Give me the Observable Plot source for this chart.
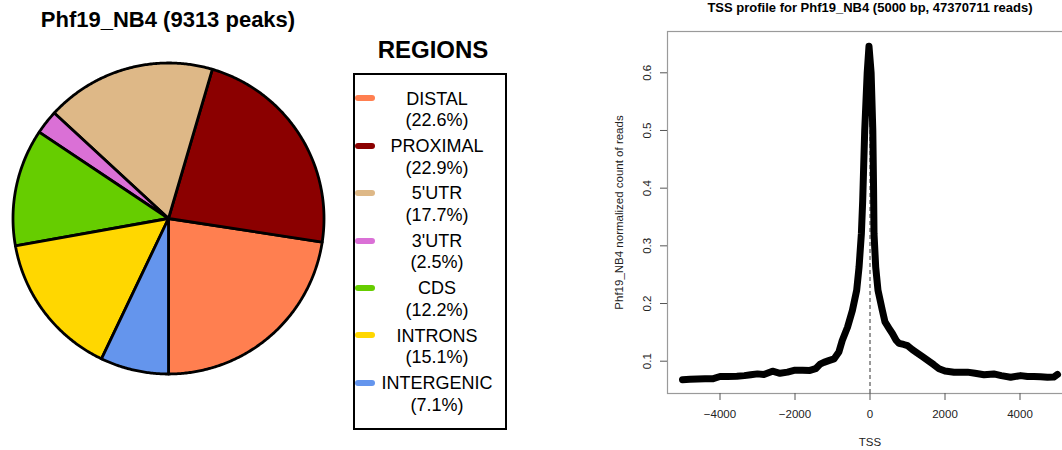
<!DOCTYPE html>
<html>
<head>
<meta charset="utf-8">
<script src="https://cdn.jsdelivr.net/npm/d3@7"></script>
<script src="https://cdn.jsdelivr.net/npm/@observablehq/plot@0.6"></script>
<style>
  body { margin: 0; background: #fff; font-family: "Liberation Sans", Arial, Helvetica, sans-serif; }
  #root { position: relative; width: 1062px; height: 450px; overflow: hidden; background: #fff; }
  .abs { position: absolute; white-space: nowrap; color: #000; }
  .abs svg { display: block; max-width: none !important; }
</style>
</head>
<body>
<div id="root"></div>
<script>
// Peak annotation shares per genomic region
const regions = ["DISTAL", "PROXIMAL", "5'UTR", "3'UTR", "CDS", "INTRONS", "INTERGENIC"];
const percents = [22.6, 22.9, 17.7, 2.5, 12.2, 15.1, 7.1];
const regionColors = ["#FF7F50", "#8B0000", "#DEB887", "#DA70D6", "#66CD00", "#FFD700", "#6495ED"];

// TSS profile: position relative to TSS (bp) and normalized read count
const tssPosition = [-5000, -4800, -4600, -4400, -4200, -4000, -3800, -3550, -3350, -3180, -3000, -2830, -2600, -2400, -2200, -2000, -1800, -1600, -1450, -1330, -1230, -1100, -960, -830, -740, -600, -470, -355, -292, -230, -195, -141, -75, -27, 30, 75, 95, 107, 152, 213, 330, 400, 507, 597, 700, 773, 900, 1000, 1130, 1264, 1400, 1531, 1700, 1840, 2000, 2240, 2600, 2800, 3040, 3300, 3500, 3750, 4020, 4200, 4370, 4550, 4730, 4900, 5000];
const tssSignal = [0.068, 0.0685, 0.069, 0.0695, 0.0695, 0.0735, 0.0735, 0.074, 0.075, 0.0765, 0.078, 0.077, 0.0827, 0.079, 0.081, 0.0845, 0.0845, 0.084, 0.087, 0.095, 0.098, 0.101, 0.104, 0.116, 0.136, 0.159, 0.188, 0.223, 0.263, 0.321, 0.378, 0.50, 0.60, 0.646, 0.60, 0.50, 0.40, 0.321, 0.263, 0.223, 0.188, 0.168, 0.157, 0.148, 0.136, 0.131, 0.129, 0.127, 0.120, 0.114, 0.108, 0.102, 0.094, 0.087, 0.083, 0.081, 0.081, 0.079, 0.0765, 0.078, 0.075, 0.0723, 0.075, 0.0735, 0.0735, 0.073, 0.0723, 0.0725, 0.077];
const xTicks = [-4000, -2000, 0, 2000, 4000];
const yTicks = [0.1, 0.2, 0.3, 0.4, 0.5, 0.6];

const peaksTitle = "Phf19_NB4 (9313 peaks)";
const legendTitle = "REGIONS";
const profileTitle = "TSS profile for Phf19_NB4 (5000 bp, 47370711 reads)";
const profileXLabel = "TSS";
const profileYLabel = "Phf19_NB4 normalized count of reads";

const root = document.getElementById("root");
function place(node, left, top, width) {
  const wrap = document.createElement("div");
  wrap.className = "abs";
  wrap.style.left = left + "px";
  wrap.style.top = top + "px";
  wrap.style.width = width + "px";
  node.style.maxWidth = "none";
  wrap.appendChild(node);
  root.appendChild(wrap);
  return wrap;
}
function textBox(str, left, top, width, css) {
  const d = document.createElement("div");
  d.className = "abs";
  d.textContent = str;
  d.style.left = left + "px";
  d.style.top = top + "px";
  d.style.width = width + "px";
  d.style.textAlign = "center";
  Object.assign(d.style, css);
  root.appendChild(d);
  return d;
}

// ---- Pie of regions: slices start at the bottom and run counter-clockwise
const total = d3.sum(percents);
const slicePoints = [];
let acc = 0;
regions.forEach((r, i) => {
  const a0 = -Math.PI / 2 + (acc / total) * 2 * Math.PI;
  acc += percents[i];
  const a1 = -Math.PI / 2 + (acc / total) * 2 * Math.PI;
  const n = Math.max(2, Math.ceil((a1 - a0) / (Math.PI / 360)));
  slicePoints.push({region: r, x: 0, y: 0});
  for (let k = 0; k <= n; k++) {
    const a = a0 + (a1 - a0) * k / n;
    slicePoints.push({region: r, x: Math.cos(a), y: Math.sin(a)});
  }
  slicePoints.push({region: r, x: 0, y: 0});
});
const pieSize = 330, pieExtent = 1.0611;
const pie = Plot.plot({
  width: pieSize, height: pieSize, margin: 0,
  x: {domain: [-pieExtent, pieExtent], axis: null},
  y: {domain: [-pieExtent, pieExtent], axis: null},
  color: {domain: regions, range: regionColors},
  marks: [
    Plot.line(slicePoints, {x: "x", y: "y", z: "region", fill: "region", stroke: "black",
      strokeWidth: 2.8, strokeLinejoin: "round", curve: "linear"})
  ]
});
place(pie, 168 - pieSize / 2, 217.5 - pieSize / 2, pieSize);
textBox(peaksTitle, 0, 9.4, 336, {fontWeight: "bold", fontSize: "22px", lineHeight: "22px"});

// ---- Legend
textBox(legendTitle, 333, 38, 200, {fontWeight: "bold", fontSize: "24px", lineHeight: "24px"});
const box = document.createElement("div");
box.className = "abs";
Object.assign(box.style, {left: "353px", top: "73px", width: "150px", height: "353px", border: "2px solid #000"});
root.appendChild(box);
regions.forEach((r, i) => {
  const cy = 98.3 + i * 47.4;
  const sw = document.createElement("div");
  sw.className = "abs";
  Object.assign(sw.style, {left: "355px", top: (cy - 3) + "px", width: "20px", height: "6px",
    borderRadius: "3px", background: regionColors[i]});
  root.appendChild(sw);
  textBox(r, 357, cy - 8.8, 160, {fontSize: "18px", lineHeight: "18px"});
  textBox("(" + percents[i].toFixed(1) + "%)", 357, cy + 21.7 - 8.8, 160, {fontSize: "18px", lineHeight: "18px"});
});

// ---- TSS profile
const tssData = tssPosition.map((p, i) => ({pos: p, value: tssSignal[i]}));
const peakValue = d3.max(tssSignal);
const yDomain = [0.044, 0.6716];
const profile = Plot.plot({
  width: 520, height: 450,
  marginLeft: 107, marginRight: 8, marginTop: 31, marginBottom: 57,
  style: {fontFamily: "Liberation Sans, Arial, sans-serif", fontSize: "11.5px", color: "#222", background: "transparent", maxWidth: "none"},
  x: {domain: [-5400, 5400]},
  y: {domain: yDomain},
  marks: [
    Plot.frame({stroke: "#9a9a9a", strokeWidth: 1.2}),
    Plot.axisX({ticks: xTicks, tickFormat: d3.format("d"), tickSize: 7, tickPadding: 9, stroke: "#555",
      label: profileXLabel, labelAnchor: "center", labelArrow: "none", labelOffset: 52}),
    Plot.axisY({ticks: yTicks, tickFormat: d3.format(".1f"), tickSize: 7, tickPadding: 10, tickRotate: -90, stroke: "#555",
      label: profileYLabel, labelAnchor: "center", labelArrow: "none", labelOffset: 53}),
    Plot.ruleX([0], {y1: yDomain[0], y2: peakValue, stroke: "#333", strokeWidth: 1, strokeDasharray: "4,3"}),
    Plot.line(tssData, {x: "pos", y: "value", stroke: "black", strokeWidth: 7,
      strokeLinecap: "round", strokeLinejoin: "round", curve: "linear"})
  ]
});
place(profile, 560, 0, 520);
textBox(profileTitle, 570, 1, 600, {fontWeight: "bold", fontSize: "13px", lineHeight: "13px"});
</script>
</body>
</html>
